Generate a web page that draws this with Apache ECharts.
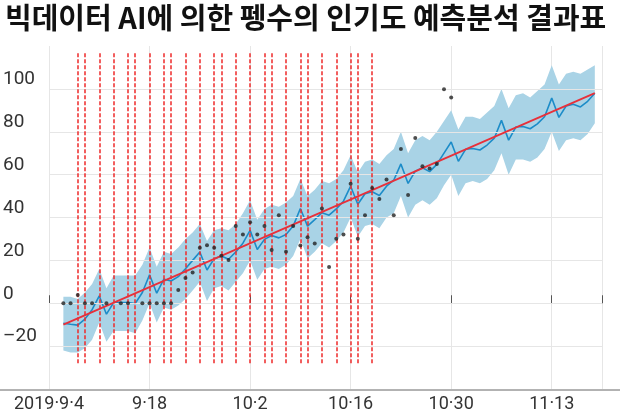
<!DOCTYPE html>
<html>
<head>
<meta charset="utf-8">
<script src="https://cdn.jsdelivr.net/npm/echarts@6/dist/echarts.min.js"></script>
<style>html,body{margin:0;background:#fff}#main{width:620px;height:413px}</style>
</head>
<body>
<div id="main"></div>
<script>
// 날짜 눈금 (2019-09-04 부터 일 수)
var tickDays = [0, 14, 28, 42, 56, 70];
var tickNames = ['2019·9·4', '9·18', '10·2', '10·16', '10·30', '11·13'];
var yTicks = [-20, 0, 20, 40, 60, 80, 100];

// 예측값 (day 2 ~ 76)
var forecastDays = [2,3,4,5,6,7,8,9,10,11,12,13,14,15,16,17,18,19,20,21,22,23,24,25,26,27,28,29,30,31,32,33,34,35,36,37,38,39,40,41,42,43,44,45,46,47,48,49,50,51,52,53,54,55,56,57,58,59,60,61,62,63,64,65,66,67,68,69,70,71,72,73,74,75,76];
var forecast = [-9.3,-9.8,-10.2,-7.4,-3,3.4,-5.1,0.3,0.3,0.3,-0.1,5,13.3,4.7,11.2,10.4,12.4,16.1,20,23.9,15.5,20.8,22,20.5,23.9,28,34,25.1,29.8,31.6,30.5,32.1,36,44.2,36,39,42.2,41.1,44,47.6,54.6,46.2,51.1,52,50.3,54.6,57.4,65,55.9,61.6,63.2,61.4,64.8,70,75.2,66.2,71.8,72.2,71.5,73.8,77,85.3,76.1,82.2,82.5,81.4,83.7,87,95.7,86.7,92,92.8,91.6,94.2,98];
var lower = [-22,-23,-23,-21,-17,-9,-18,-13,-13,-13,-14,-8,0,-9,-2,-3,-1,2,6,10,1,7,8,6,10,14,20,11,16,17,16,18,22,30,21,24,28,26,29,33,40,31,36,37,35,40,42,50,40,46,48,46,49,55,60,50,56,57,56,58,62,70,60,67,67,66,68,72,80,71,76,77,76,79,84];
var upper = [3,3,2,5,9,16,7,13,13,13,13,18,26,17,24,23,26,30,33,37,29,34,35,34,37,42,48,39,44,46,45,47,50,58,50,53,57,56,58,62,69,61,66,67,65,69,72,80,70,76,78,76,80,85,90,81,87,87,86,89,92,100,91,97,98,96,99,102,111,102,107,108,107,109,111];

// 추세선
var trendDays = [2, 76];
var trend = [-10, 98];

// 실제 관측값
var obsDays = [2,3,4,5,6,8,10,11,13,14,15,16,17,18,19,20,21,22,23,24,25,26,27,28,29,30,31,32,33,34,35,36,37,38,39,40,41,42,43,44,45,46,47,48,49,50,51,52,53,54,55,56];
var obs = [0,0,3.9,0,0,0,0,0,0,0,0,0,0,6.2,11.8,14.3,25.9,27.1,25.9,22.2,20.2,36,32.1,37.8,32.1,36,24.8,41.1,24,36,26.9,30.8,27.9,44.2,16.9,30.1,32.1,55.8,30.1,41.1,53.8,48.6,57.7,41.1,71.9,50.5,77.1,63.9,62.8,64.9,99.8,96];

// 휴일/이벤트 구분선
var eventDays = [4,5,7,9,11,12,14,16,17,19,21,23,24,26,28,30,31,33,35,36,38,40,42,43,45];

function pairs(xs, ys){
  return xs.map(function(x, i){ return [x, ys[i]]; });
}

var chart = echarts.init(document.getElementById('main'));
var font = '"Liberation Sans Narrow", "Roboto", sans-serif';

// 신뢰구간 띠
function renderBand(params, api){
  if (params.dataIndex !== 0) return;
  var top = [], bot = [];
  for (var i = 0; i < forecastDays.length; i++) {
    top.push(api.coord([forecastDays[i], upper[i]]));
    bot.unshift(api.coord([forecastDays[i], lower[i]]));
  }
  return {type: 'polygon', shape: {points: top.concat(bot)}, style: {fill: '#a9d3e6'}, silent: true};
}

chart.setOption({
  animation: false,
  title: {
    text: '빅데이터 AI에 의한 펭수의 인기도 예측분석 결과표',
    left: 0, top: -2,
    textStyle: {fontFamily: '"Noto Sans CJK KR"', fontSize: 29, fontWeight: 'bold', color: '#111'}
  },
  grid: {left: 48, right: 18, top: 46, bottom: 23},
  xAxis: {
    type: 'value', min: 0, max: 77, interval: 14,
    axisLine: {show: false},
    axisTick: {show: true, inside: true, length: 8, lineStyle: {color: '#555'}},
    splitLine: {show: true, lineStyle: {color: '#e6e6e6'}},
    axisLabel: {
      fontFamily: font, fontSize: 18, color: '#333', margin: 6,
      formatter: function(v){ var i = tickDays.indexOf(v); return i < 0 ? '' : tickNames[i]; }
    }
  },
  yAxis: {
    type: 'value', min: -40, max: 120, interval: 20,
    axisLine: {show: false}, axisTick: {show: false},
    splitLine: {show: false},
    axisLabel: {
      fontFamily: font, fontSize: 19, color: '#333', align: 'left', margin: 46, verticalAlign: 'bottom',
      formatter: function(v){ return (v < -20 || v > 100) ? '' : (v < 0 ? '–' + (-v) : v); }
    }
  },
  graphic: [{type: 'line', shape: {x1: 0, y1: 390, x2: 620, y2: 390}, style: {stroke: '#666', lineWidth: 1}}],
  series: [
    {type: 'line', data: [], symbol: 'none', z: 0,
      markLine: {
        symbol: 'none', silent: true, label: {show: false},
        lineStyle: {color: '#e6e6e6', type: 'solid', width: 1},
        data: yTicks.map(function(v){ return {yAxis: v}; })
      }},
    {type: 'custom', renderItem: renderBand, data: pairs(forecastDays, forecast), z: 1},
    {type: 'line', data: [], symbol: 'none', z: 3,
      markLine: {
        symbol: 'none', silent: true, label: {show: false},
        lineStyle: {color: '#ee2a2a', type: [4, 2], width: 1.5},
        data: eventDays.map(function(d){ return [{coord: [d, -28]}, {coord: [d, 117]}]; })
      }},
    {type: 'line', data: pairs(forecastDays, forecast), symbol: 'none', z: 4, lineStyle: {color: '#1c8cc8', width: 1.6}},
    {type: 'line', data: pairs(trendDays, trend), symbol: 'none', z: 5, lineStyle: {color: '#e8303a', width: 1.8}},
    {type: 'scatter', data: pairs(obsDays, obs), symbolSize: 4, z: 6, itemStyle: {color: '#222'}}
  ]
});
</script>
</body>
</html>
